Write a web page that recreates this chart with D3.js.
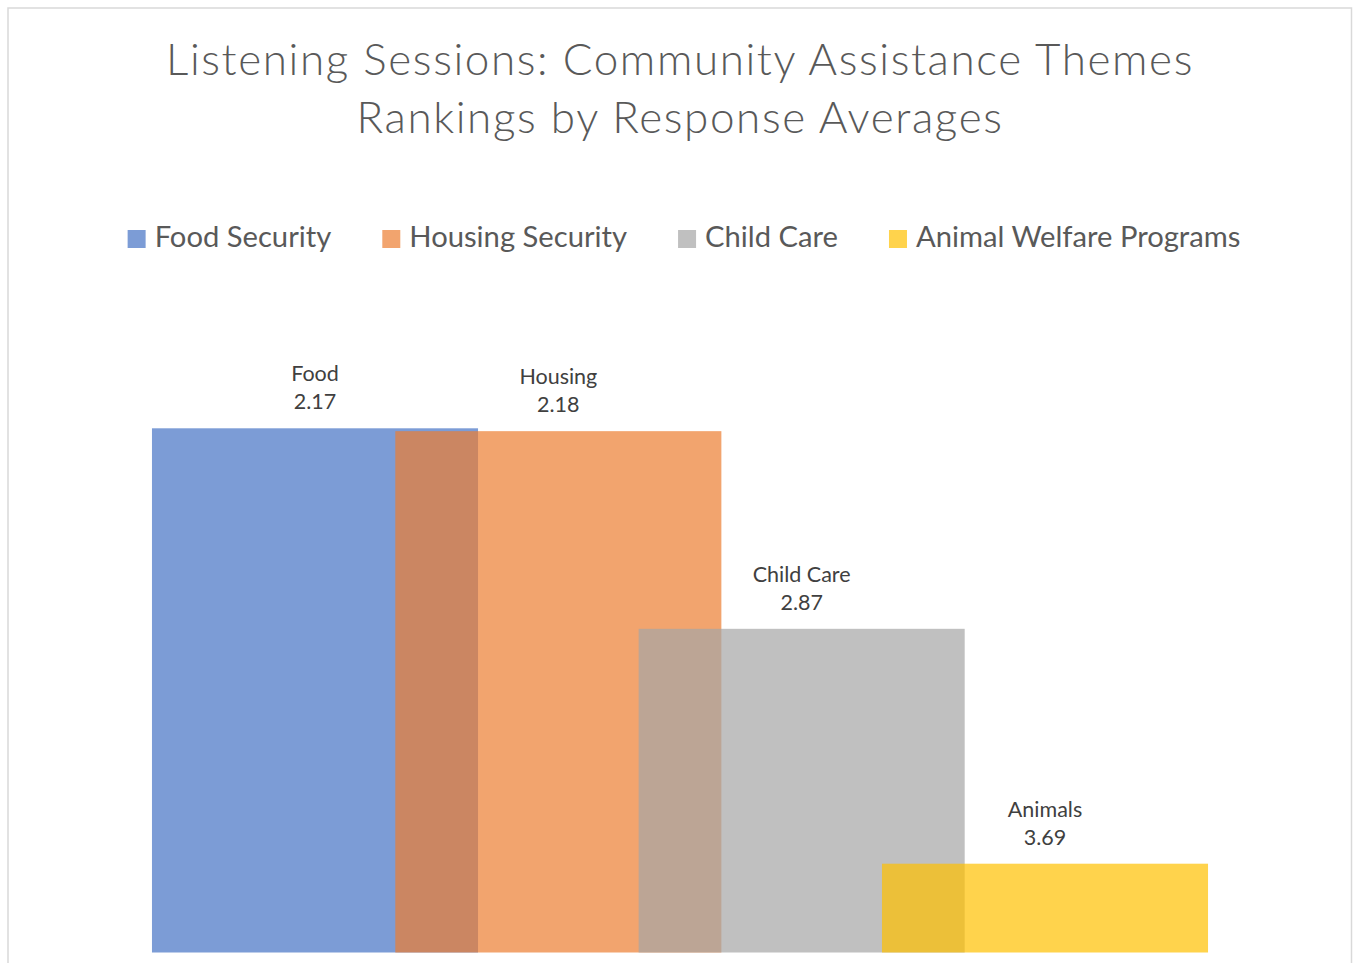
<!DOCTYPE html>
<html>
<head>
<meta charset="utf-8">
<script src="https://cdn.jsdelivr.net/npm/d3@7"></script>
<style>
  html, body { margin: 0; padding: 0; background: #fff; }
  svg { display: block; }
</style>
</head>
<body>
<script>
// ---- data ----
const titleLines = ["Listening Sessions: Community Assistance Themes", "Rankings by Response Averages"];
const seriesNames = ["Food Security", "Housing Security", "Child Care", "Animal Welfare Programs"];
const shortNames = ["Food", "Housing", "Child Care", "Animals"];
const values = [2.17, 2.18, 2.87, 3.69];
const colors = ["#4472C4", "#ED7D31", "#A5A5A5", "#FFC000"];
const axisDomain = [2, 4]; // reversed value axis (lower average = better rank = taller bar)

// ---- layout ----
const W = 1353, H = 963;
const svg = d3.select("body").append("svg").attr("width", W).attr("height", H);
svg.append("rect").attr("width", W).attr("height", H).attr("fill", "#fff");

// chart border
svg.append("rect")
  .attr("x", 8).attr("y", 8).attr("width", 1343.5).attr("height", 970)
  .attr("fill", "none").attr("stroke", "#D9D9D9").attr("stroke-width", 1.5);

const cx = 680;
const fontFam = "Lato, 'Open Sans', sans-serif";

// title
const title = svg.append("text")
  .attr("text-anchor", "middle")
  .attr("font-family", fontFam)
  .attr("font-weight", 300)
  .attr("font-size", 44)
  .attr("letter-spacing", 1.6)
  .attr("fill", "#595959");
titleLines.forEach((t, i) => {
  title.append("tspan").attr("x", cx).attr("y", 75 + i * 58).text(t);
});

// scales
const x = d3.scalePoint().domain(seriesNames).range([315, 1045]);
const barW = x.step() * 1.34;
const y = d3.scaleLinear().domain(axisDomain).range([379.6, 952.5]);

const data = seriesNames.map((s, i) => ({ s, short: shortNames[i], v: values[i], c: colors[i] }));

// bars
svg.append("g").selectAll("rect").data(data).join("rect")
  .attr("x", d => x(d.s) - barW / 2)
  .attr("width", barW)
  .attr("y", d => y(d.v))
  .attr("height", d => y(axisDomain[1]) - y(d.v))
  .attr("fill", d => d.c)
  .attr("fill-opacity", 0.7);

// data labels
const lab = svg.append("g").selectAll("text").data(data).join("text")
  .attr("text-anchor", "middle")
  .attr("font-family", fontFam)
  .attr("font-size", 21.5)
  .attr("fill", "#404040");
lab.append("tspan").attr("x", d => x(d.s)).attr("y", d => y(d.v) - 47).text(d => d.short);
lab.append("tspan").attr("x", d => x(d.s)).attr("y", d => y(d.v) - 19).text(d => d.v.toFixed(2));

// legend
const leg = svg.append("g");
const items = leg.selectAll("g").data(data).join("g");
items.append("rect").attr("width", 18).attr("height", 18).attr("y", -17)
  .attr("fill", d => d.c).attr("fill-opacity", 0.7);
items.append("text").attr("x", 27).attr("y", 0)
  .attr("font-family", fontFam).attr("font-size", 29.2).attr("fill", "#595959")
  .text(d => d.s);
let offs = [], acc = 0;
items.each(function (d, i) {
  const w = d3.select(this).select("text").node().getComputedTextLength();
  offs.push(acc);
  acc += 27 + w + (i < data.length - 1 ? 51 : 0);
});
const startX = cx + 4 - acc / 2;
items.attr("transform", (d, i) => `translate(${startX + offs[i]},247)`);
</script>
</body>
</html>
